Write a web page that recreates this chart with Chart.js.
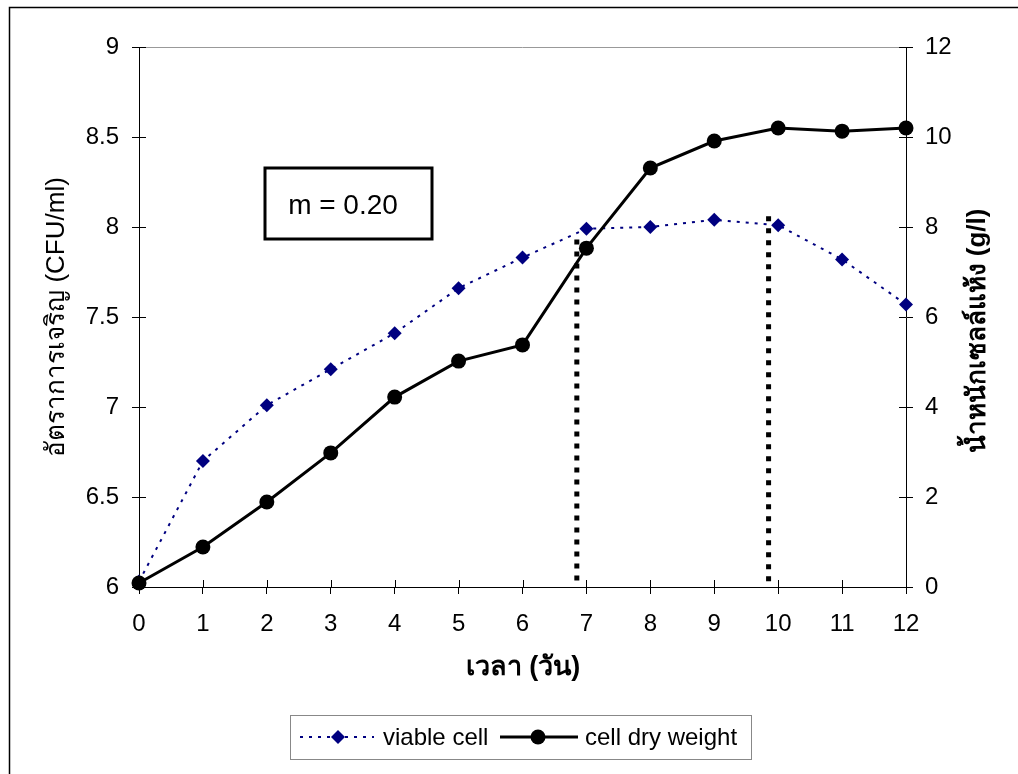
<!DOCTYPE html>
<html>
<head>
<meta charset="utf-8">
<script src="https://cdn.jsdelivr.net/npm/chart.js@4.4.1/dist/chart.umd.min.js"></script>
<style>
html,body{margin:0;padding:0;background:#fff;}
#wrap{width:1018px;height:774px;position:relative;}
</style>
</head>
<body>
<div id="wrap"><canvas id="c" width="1018" height="774"></canvas></div>
<script>
const days = [0,1,2,3,4,5,6,7,8,9,10,11,12];
const viableCell = [6.03,6.70,7.01,7.21,7.41,7.66,7.83,7.99,8.00,8.04,8.01,7.82,7.57];
const cellDryWeight = [0.09,0.89,1.89,2.98,4.22,5.02,5.38,7.53,9.31,9.91,10.2,10.13,10.2];
const markerLine1 = [[6.85,7.93],[6.85,6]];
const markerLine2 = [[9.85,8.06],[9.85,6]];
const leftTicks = [6,6.5,7,7.5,8,8.5,9];
const rightTicks = [0,2,4,6,8,10,12];
const labels = {
  x: 'เวลา (วัน)',
  yLeft: 'อัตราการเจริญ (CFU/ml)',
  yRight: 'น้ำหนักเซลล์แห้ง (g/l)',
  viable: 'viable cell',
  cdw: 'cell dry weight',
  note: 'm = 0.20'
};
const FONT = '"Liberation Sans", Arial, sans-serif';

const pts = (xs, ys) => xs.map((x,i)=>({x:x, y:ys[i]}));
const seg = s => s.map(p=>({x:p[0], y:p[1]}));

const decor = {
  id:'decor',
  beforeDraw(chart){
    const ctx = chart.ctx;
    ctx.save();
    ctx.fillStyle='#fff';
    ctx.fillRect(0,0,chart.width,chart.height);
    ctx.strokeStyle='#000'; ctx.lineWidth=1.5;
    ctx.beginPath(); ctx.moveTo(9.5,774); ctx.lineTo(9.5,7.5); ctx.lineTo(1018,7.5); ctx.stroke();
    const a = chart.chartArea;
    ctx.strokeStyle='#999'; ctx.lineWidth=1;
    ctx.beginPath(); ctx.moveTo(a.left, a.top+0.5); ctx.lineTo(a.right, a.top+0.5); ctx.stroke();
    ctx.restore();
  },
  afterDatasetsDraw(chart){
    const ctx = chart.ctx;
    const a = chart.chartArea;
    const sx = chart.scales.x, yl = chart.scales.y, yr = chart.scales.y1;
    ctx.save();
    ctx.strokeStyle='#000'; ctx.lineWidth=1;
    ctx.beginPath();
    leftTicks.forEach(v=>{const y=Math.round(yl.getPixelForValue(v))+0.5; ctx.moveTo(a.left,y); ctx.lineTo(a.left+7,y);});
    rightTicks.forEach(v=>{const y=Math.round(yr.getPixelForValue(v))+0.5; ctx.moveTo(a.right,y); ctx.lineTo(a.right-7,y);});
    days.forEach(v=>{const x=Math.round(sx.getPixelForValue(v))+0.5; ctx.moveTo(x,a.bottom); ctx.lineTo(x,a.bottom-7);});
    ctx.stroke();
    ctx.fillStyle='#000';
    ctx.textAlign='center'; ctx.textBaseline='middle';
    ctx.font='bold 27px '+FONT;
    ctx.fillText(labels.x, 523, 668);
    ctx.save();
    ctx.translate(57, 317); ctx.rotate(-Math.PI/2);
    ctx.font='26px '+FONT;
    ctx.fillText(labels.yLeft, 0, 0);
    ctx.restore();
    ctx.save();
    ctx.translate(978, 331); ctx.rotate(-Math.PI/2);
    ctx.font='bold 26px '+FONT;
    ctx.fillText(labels.yRight, 0, 0);
    ctx.restore();
    ctx.fillStyle='#fff';
    ctx.fillRect(265,168,167,71);
    ctx.strokeStyle='#000'; ctx.lineWidth=3;
    ctx.strokeRect(265,168,167,71);
    ctx.fillStyle='#000';
    ctx.font='28px '+FONT;
    ctx.fillText(labels.note, 343, 206);
    ctx.fillStyle='#fff';
    ctx.fillRect(290.5,715.5,461,44);
    ctx.strokeStyle='#888'; ctx.lineWidth=1;
    ctx.strokeRect(290.5,715.5,461,44);
    const ly = 737;
    ctx.strokeStyle='#000080'; ctx.lineWidth=2; ctx.setLineDash([3,6]);
    ctx.beginPath(); ctx.moveTo(300,ly); ctx.lineTo(374,ly); ctx.stroke();
    ctx.setLineDash([]);
    ctx.fillStyle='#000080';
    ctx.beginPath(); ctx.moveTo(338,ly-7); ctx.lineTo(345,ly); ctx.lineTo(338,ly+7); ctx.lineTo(331,ly); ctx.closePath(); ctx.fill();
    ctx.strokeStyle='#000'; ctx.lineWidth=3;
    ctx.beginPath(); ctx.moveTo(500,ly); ctx.lineTo(578,ly); ctx.stroke();
    ctx.fillStyle='#000';
    ctx.beginPath(); ctx.arc(538,ly,7.5,0,Math.PI*2); ctx.fill();
    ctx.textAlign='left';
    ctx.font='24px '+FONT;
    ctx.fillText(labels.viable, 383, ly+1);
    ctx.fillText(labels.cdw, 585, ly+1);
    ctx.restore();
  }
};

new Chart(document.getElementById('c'), {
  type:'line',
  data:{
    datasets:[
      {label:labels.cdw, data:pts(days,cellDryWeight), yAxisID:'y1', borderColor:'#000', backgroundColor:'#000', borderWidth:3, pointStyle:'circle', pointRadius:7.5, pointBorderWidth:0, tension:0, clip:false},
      {label:labels.viable, data:pts(days,viableCell), yAxisID:'y', borderColor:'#000080', backgroundColor:'#000080', borderWidth:2, borderDash:[3,6], pointStyle:'rectRot', pointRadius:7, pointBorderWidth:0, tension:0, clip:false},
      {label:'m1', data:seg(markerLine1), yAxisID:'y', borderColor:'#000', borderWidth:5, borderDash:[5,7], pointRadius:0},
      {label:'m2', data:seg(markerLine2), yAxisID:'y', borderColor:'#000', borderWidth:5, borderDash:[5,7], pointRadius:0}
    ]
  },
  options:{
    responsive:false, animation:false,
    layout:{padding:{top:47,left:0,right:0,bottom:0}},
    plugins:{legend:{display:false}, tooltip:{enabled:false}},
    elements:{line:{borderCapStyle:'butt'}},
    scales:{
      x:{type:'linear', min:0, max:12,
        afterBuildTicks(s){s.ticks = days.map(v=>({value:v}));},
        afterFit(s){s.height=187;},
        ticks:{color:'#000', font:{family:FONT,size:24}, padding:16, maxRotation:0, autoSkip:false, callback:v=>String(v)},
        grid:{display:true, drawOnChartArea:false, tickLength:7, color:'#000'},
        border:{display:true, color:'#000', width:1}
      },
      y:{type:'linear', position:'left', min:6, max:9,
        afterBuildTicks(s){s.ticks = leftTicks.map(v=>({value:v}));},
        afterFit(s){s.width=139;},
        ticks:{color:'#000', font:{family:FONT,size:24}, padding:13, callback:v=>String(v)},
        grid:{display:true, drawOnChartArea:false, tickLength:7, color:'#000'},
        border:{display:true, color:'#000', width:1}
      },
      y1:{type:'linear', position:'right', min:0, max:12,
        afterBuildTicks(s){s.ticks = rightTicks.map(v=>({value:v}));},
        afterFit(s){s.width=112;},
        ticks:{color:'#000', font:{family:FONT,size:24}, padding:12, callback:v=>String(v)},
        grid:{display:true, drawOnChartArea:false, tickLength:7, color:'#000'},
        border:{display:true, color:'#000', width:1}
      }
    }
  },
  plugins:[decor]
});
</script>
</body>
</html>
